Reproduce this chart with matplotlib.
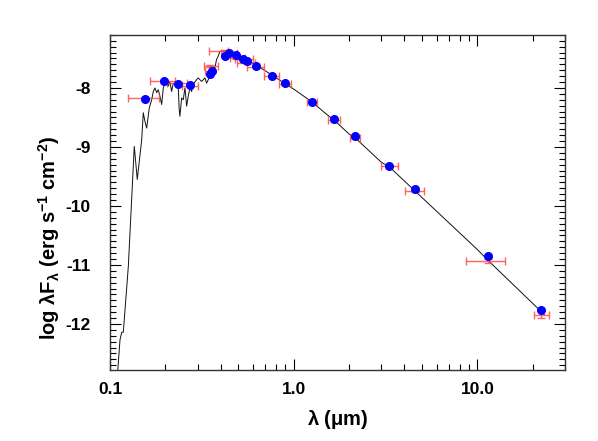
import matplotlib
matplotlib.use("Agg")
import matplotlib.pyplot as plt
from matplotlib.ticker import MultipleLocator, FixedLocator, NullFormatter

plt.rcParams["font.family"] = ["Liberation Sans", "DejaVu Sans"]
plt.rcParams["font.weight"] = "bold"
plt.rcParams["axes.unicode_minus"] = False
plt.rcParams["mathtext.fontset"] = "custom"
plt.rcParams["mathtext.rm"] = "Liberation Sans:bold"
plt.rcParams["mathtext.it"] = "Liberation Sans:bold"
plt.rcParams["mathtext.bf"] = "Liberation Sans:bold"

# model spectrum (wavelength in micron, log lambda F_lambda)
spec_wl = [0.1095, 0.1133, 0.1158, 0.1181, 0.1258, 0.1355, 0.1407, 0.1487,
           0.1517, 0.155, 0.1583, 0.1635, 0.1685, 0.172, 0.1756, 0.1794,
           0.183, 0.1869, 0.191, 0.195, 0.199, 0.2032, 0.2074, 0.2118,
           0.2164, 0.2208, 0.2255, 0.2304, 0.235, 0.238, 0.2401, 0.2453,
           0.2503, 0.2557, 0.2612, 0.2665, 0.2722, 0.278, 0.2837, 0.296,
           0.302, 0.315, 0.3285, 0.3355, 0.3496, 0.3642, 0.372, 0.38,
           0.388, 0.396, 0.413, 0.431, 0.45, 0.48, 0.52, 0.55, 0.62, 0.7,
           0.76, 0.9, 1.0, 1.26, 1.5, 1.65, 2.0, 2.15, 3.0, 3.32, 4.55,
           5.0, 10.0, 11.4, 23.1]
spec_f = [-12.9, -12.27, -12.14, -12.14, -11.02, -8.99, -9.55, -8.88,
          -8.42, -8.57, -8.68, -8.34, -8.20, -8.06, -8.00, -8.08,
          -8.03, -8.14, -8.28, -8.00, -7.92, -7.86, -7.97, -7.89,
          -8.06, -7.92, -7.94, -7.89, -7.97, -8.37, -8.48, -8.17,
          -8.20, -8.00, -8.31, -8.14, -8.00, -8.06, -7.94, -7.86,
          -7.83, -7.89, -7.83, -7.92, -7.80, -7.75, -7.66, -7.52,
          -7.46, -7.38, -7.38, -7.36, -7.40, -7.43, -7.47, -7.51, -7.61, -7.71,
          -7.78, -7.93, -8.02, -8.24, -8.44, -8.54, -8.78, -8.84, -9.26, -9.34, -9.74,
          -9.86, -10.74, -10.92, -11.84]

# observed photometry (blue) and model band fluxes (red)
phot_wl = [0.155, 0.196, 0.235, 0.272, 0.350, 0.360, 0.42, 0.445, 0.484,
           0.53, 0.555, 0.62, 0.76, 0.90, 1.26, 1.65, 2.15, 3.32, 4.55,
           11.4, 22.3]
phot_obs = [-8.18, -7.89, -7.93, -7.95, -7.76, -7.72, -7.46, -7.41, -7.44,
            -7.51, -7.54, -7.63, -7.79, -7.92, -8.23, -8.53, -8.82, -9.33,
            -9.72, -10.85, -11.76]
phot_mod = [-8.17, -7.89, -7.92, -7.96, -7.63, -7.71, -7.38, -7.40, -7.49,
            -7.51, -7.57, -7.64, -7.80, -7.93, -8.24, -8.55, -8.84, -9.33,
            -9.74, -10.94, -11.84]
band_lo = [0.126, 0.166, 0.205, 0.245, 0.325, 0.33, 0.346, 0.40, 0.449,
           0.478, 0.488, 0.554, 0.69, 0.83, 1.18, 1.53, 2.02, 2.99, 4.04,
           8.7, 20.4]
band_hi = [0.185, 0.225, 0.262, 0.303, 0.385, 0.37, 0.439, 0.49, 0.546,
           0.60, 0.613, 0.688, 0.83, 0.97, 1.34, 1.79, 2.30, 3.68, 5.10,
           14.2, 24.5]
mod_err = [0.02] * 19 + [0.035, 0.055]

fig = plt.figure(figsize=(5.98, 4.41), dpi=100)
ax = fig.add_axes([0.184, 0.161, 0.761, 0.760])

ax.plot(spec_wl, spec_f, color="#111111", lw=0.7, zorder=2)

xerr = [[w - lo for w, lo in zip(phot_wl, band_lo)],
        [hi - w for w, hi in zip(phot_wl, band_hi)]]
ax.errorbar(phot_wl, phot_mod, xerr=xerr, yerr=mod_err, fmt="none",
            ecolor="#ff4a4a", elinewidth=1.0, capsize=3, capthick=1.0,
            alpha=0.85, zorder=3)
ax.plot(phot_wl, phot_obs, "o", color="blue", ms=5.5, mec="blue", zorder=4)

ax.set_xscale("log")
ax.set_xlim(0.1, 30)
ax.set_ylim(-12.78, -7.1)
ax.xaxis.set_major_locator(FixedLocator([0.1, 1.0, 10.0]))
ax.set_xticklabels(["0.1", "1.0", "10.0"])
ax.xaxis.set_minor_formatter(NullFormatter())
ax.yaxis.set_major_locator(MultipleLocator(1))
ax.yaxis.set_minor_locator(MultipleLocator(0.1))

ax.tick_params(which="both", direction="in", top=True, right=True,
               labelsize=12.5, width=0.8)
ax.tick_params(which="major", length=8)
ax.tick_params(which="minor", length=4)
ax.tick_params(axis="x", pad=9)
ax.tick_params(axis="y", pad=14)
for lab in ax.get_xticklabels() + ax.get_yticklabels():
    lab.set_fontweight("bold")
for sp in ax.spines.values():
    sp.set_linewidth(1.0)
    sp.set_color("#333333")

ax.set_xlabel(r"$\lambda$ ($\mu$m)", fontsize=14.5, fontweight="bold")
ax.set_ylabel(r"log $\lambda$F$_\lambda$ (erg s$^{-1}$ cm$^{-2}$)",
              fontsize=14.5, fontweight="bold")
ax.xaxis.set_label_coords(0.5, -0.112)
ax.yaxis.set_label_coords(-0.105, 0.394)

fig.savefig("out.png", dpi=100)
